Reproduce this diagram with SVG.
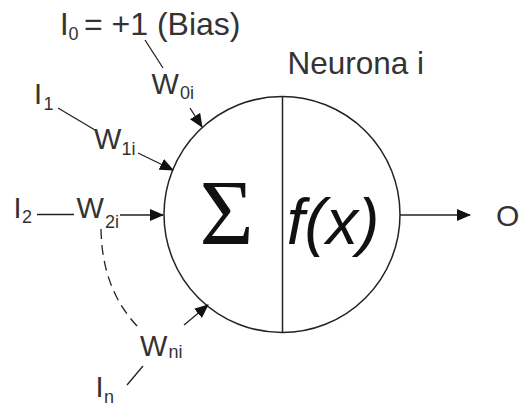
<svg xmlns="http://www.w3.org/2000/svg" width="520" height="405" viewBox="0 0 520 405">
<defs>
<marker id="ah" markerUnits="userSpaceOnUse" markerWidth="14" markerHeight="12" viewBox="0 0 14 12" refX="13" refY="6" orient="auto">
<path d="M0,0 L14,6 L0,12 Z" fill="#111"/>
</marker>
<style>
.t{font-family:"Liberation Sans",Arial,sans-serif;font-size:29px;fill:#333}
.s{font-family:"Liberation Sans",Arial,sans-serif;font-size:18px;fill:#333}
.ln{stroke:#222;stroke-width:1.3;fill:none}
.ar{stroke:#222;stroke-width:1.3;fill:none;marker-end:url(#ah)}
</style>
</defs>
<rect width="520" height="405" fill="#fff"/>
<g id="neurona">
<circle cx="282" cy="214.5" r="118" fill="#fff" stroke="#222" stroke-width="1.5"/>
<line x1="282.5" y1="96.5" x2="282.5" y2="332.5" stroke="#222" stroke-width="1.5"/>
<text x="226.5" y="243.5" text-anchor="middle" style="font-family:'Liberation Serif','Times New Roman',serif;font-size:93px;fill:#111">Σ</text>
<text x="333" y="244" text-anchor="middle" style="font-family:'Liberation Sans',Arial,sans-serif;font-size:64px;font-style:italic;fill:#111">f(x)</text>
<text x="287.5" y="74" style="font-family:'Liberation Sans',Arial,sans-serif;font-size:31.5px;fill:#333">Neurona i</text>
</g>
<g id="i0">
<text class="t" x="60" y="35" style="font-size:31px">I</text><text class="s" x="68.5" y="40">0</text>
<text class="t" x="84" y="35" style="font-size:32px">= +1 (Bias)</text>
</g>
<g id="i1">
<text class="t" x="34" y="104">I</text><text class="s" x="43.5" y="110">1</text>
</g>
<g id="i2">
<text class="t" x="13.5" y="218">I</text><text class="s" x="22" y="223">2</text>
</g>
<g id="in">
<text class="t" x="95.5" y="397">I</text><text class="s" x="104" y="402.5">n</text>
</g>
<g id="w0">
<text class="t" x="151.5" y="94">W</text><text class="s" x="180" y="98.5">0i</text>
</g>
<g id="w1">
<text class="t" x="94" y="149">W</text><text class="s" x="121.5" y="155">1i</text>
</g>
<g id="w2">
<text class="t" x="76.5" y="218">W</text><text class="s" x="105" y="228">2i</text>
</g>
<g id="wn">
<text class="t" x="140" y="356">W</text><text class="s" x="168.5" y="357.5">ni</text>
</g>
<g id="out">
<text class="t" x="496" y="226" style="font-size:30px">O</text>
</g>
<g id="connectors">
<line class="ln" x1="145" y1="40" x2="163" y2="68"/>
<line class="ar" x1="190" y1="108" x2="202" y2="127"/>
<line class="ln" x1="58" y1="108" x2="95" y2="130"/>
<line class="ar" x1="138" y1="153" x2="173" y2="170"/>
<line class="ln" x1="37" y1="214.5" x2="74" y2="214.5"/>
<line class="ar" x1="120" y1="215" x2="163" y2="215"/>
<path class="ln" d="M101,229 Q102,292 141,330" stroke-dasharray="10,6"/>
<line class="ar" x1="184" y1="325" x2="208" y2="305"/>
<line class="ln" x1="127" y1="385" x2="143" y2="366"/>
<line class="ar" x1="400" y1="215" x2="470" y2="215"/>
</g>
</svg>
